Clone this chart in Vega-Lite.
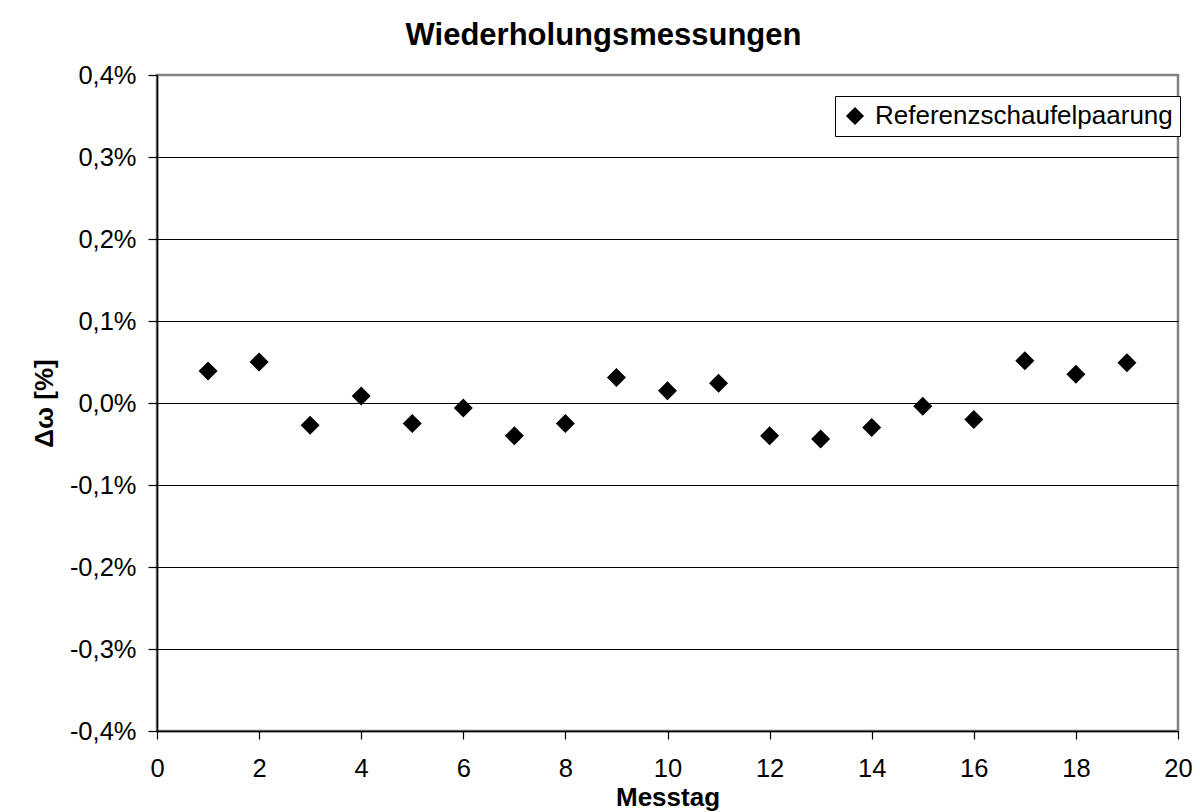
{
  "$schema": "https://vega.github.io/schema/vega-lite/v6.json",
  "width": 1021,
  "height": 656,
  "autosize": {"type": "none"},
  "padding": {"left": 157, "top": 75, "right": 22, "bottom": 81},
  "background": "white",
  "title": {
    "text": "Wiederholungsmessungen",
    "font": "Liberation Sans",
    "fontSize": 31,
    "fontWeight": "bold",
    "color": "black",
    "anchor": "middle",
    "dx": -64,
    "offset": 11
  },
  "data": {
    "values": [
      {"Messtag": 1, "dw": 0.039, "Serie": "Referenzschaufelpaarung"},
      {"Messtag": 2, "dw": 0.050, "Serie": "Referenzschaufelpaarung"},
      {"Messtag": 3, "dw": -0.027, "Serie": "Referenzschaufelpaarung"},
      {"Messtag": 4, "dw": 0.0085, "Serie": "Referenzschaufelpaarung"},
      {"Messtag": 5, "dw": -0.025, "Serie": "Referenzschaufelpaarung"},
      {"Messtag": 6, "dw": -0.006, "Serie": "Referenzschaufelpaarung"},
      {"Messtag": 7, "dw": -0.040, "Serie": "Referenzschaufelpaarung"},
      {"Messtag": 8, "dw": -0.025, "Serie": "Referenzschaufelpaarung"},
      {"Messtag": 9, "dw": 0.031, "Serie": "Referenzschaufelpaarung"},
      {"Messtag": 10, "dw": 0.015, "Serie": "Referenzschaufelpaarung"},
      {"Messtag": 11, "dw": 0.024, "Serie": "Referenzschaufelpaarung"},
      {"Messtag": 12, "dw": -0.040, "Serie": "Referenzschaufelpaarung"},
      {"Messtag": 13, "dw": -0.044, "Serie": "Referenzschaufelpaarung"},
      {"Messtag": 14, "dw": -0.030, "Serie": "Referenzschaufelpaarung"},
      {"Messtag": 15, "dw": -0.004, "Serie": "Referenzschaufelpaarung"},
      {"Messtag": 16, "dw": -0.020, "Serie": "Referenzschaufelpaarung"},
      {"Messtag": 17, "dw": 0.0515, "Serie": "Referenzschaufelpaarung"},
      {"Messtag": 18, "dw": 0.035, "Serie": "Referenzschaufelpaarung"},
      {"Messtag": 19, "dw": 0.049, "Serie": "Referenzschaufelpaarung"}
    ]
  },
  "mark": {"type": "point", "shape": "diamond", "filled": true, "size": 361, "opacity": 1, "strokeWidth": 0},
  "encoding": {
    "x": {
      "field": "Messtag",
      "type": "quantitative",
      "scale": {"domain": [0, 20], "nice": false, "zero": false},
      "axis": {
        "title": "Messtag",
        "values": [0, 2, 4, 6, 8, 10, 12, 14, 16, 18, 20],
        "grid": false,
        "domainColor": "black",
        "domainWidth": 1.5,
        "tickColor": "black",
        "tickWidth": 1.2,
        "tickSize": 8,
        "labelFont": "Liberation Sans",
        "labelFontSize": 25.5,
        "labelColor": "black",
        "labelPadding": 17,
        "labelFlush": false,
        "labelOverlap": false,
        "titleFont": "Liberation Sans",
        "titleFontSize": 26,
        "titleFontWeight": "bold",
        "titleColor": "black",
        "titlePadding": 3
      }
    },
    "y": {
      "field": "dw",
      "type": "quantitative",
      "scale": {"domain": [-0.4, 0.4], "nice": false, "zero": false},
      "axis": {
        "title": "Δω [%]",
        "values": [-0.4, -0.3, -0.2, -0.1, 0, 0.1, 0.2, 0.3, 0.4],
        "labelExpr": "(datum.value < -0.001 ? '-' : '') + replace(format(abs(datum.value), '.1f'), '.', ',') + '%'",
        "grid": true,
        "gridColor": {"condition": {"test": "datum.value > 0.35", "value": "transparent"}, "value": "black"},
        "gridWidth": 1.2,
        "domainColor": "black",
        "domainWidth": 1.5,
        "tickColor": "black",
        "tickWidth": 1.2,
        "tickSize": 9,
        "labelFont": "Liberation Sans",
        "labelFontSize": 25.5,
        "labelColor": "black",
        "labelPadding": 12,
        "labelFlush": false,
        "labelOverlap": false,
        "titleFont": "Liberation Sans",
        "titleFontSize": 26,
        "titleFontWeight": "bold",
        "titleColor": "black",
        "titlePadding": 12
      }
    },
    "color": {
      "field": "Serie",
      "type": "nominal",
      "scale": {"range": ["black"]},
      "legend": {
        "title": null,
        "orient": "none",
        "legendX": 678,
        "legendY": 21,
        "strokeColor": "black",
        "fillColor": "white",
        "padding": 7,
        "cornerRadius": 0,
        "symbolType": "diamond",
        "symbolSize": 330,
        "symbolFillColor": "black",
        "symbolStrokeWidth": 0,
        "labelFont": "Liberation Sans",
        "labelFontSize": 26,
        "labelColor": "black",
        "labelOffset": 7,
        "labelLimit": 600
      }
    }
  },
  "config": {
    "view": {"stroke": "#808080", "strokeWidth": 2.5}
  }
}
